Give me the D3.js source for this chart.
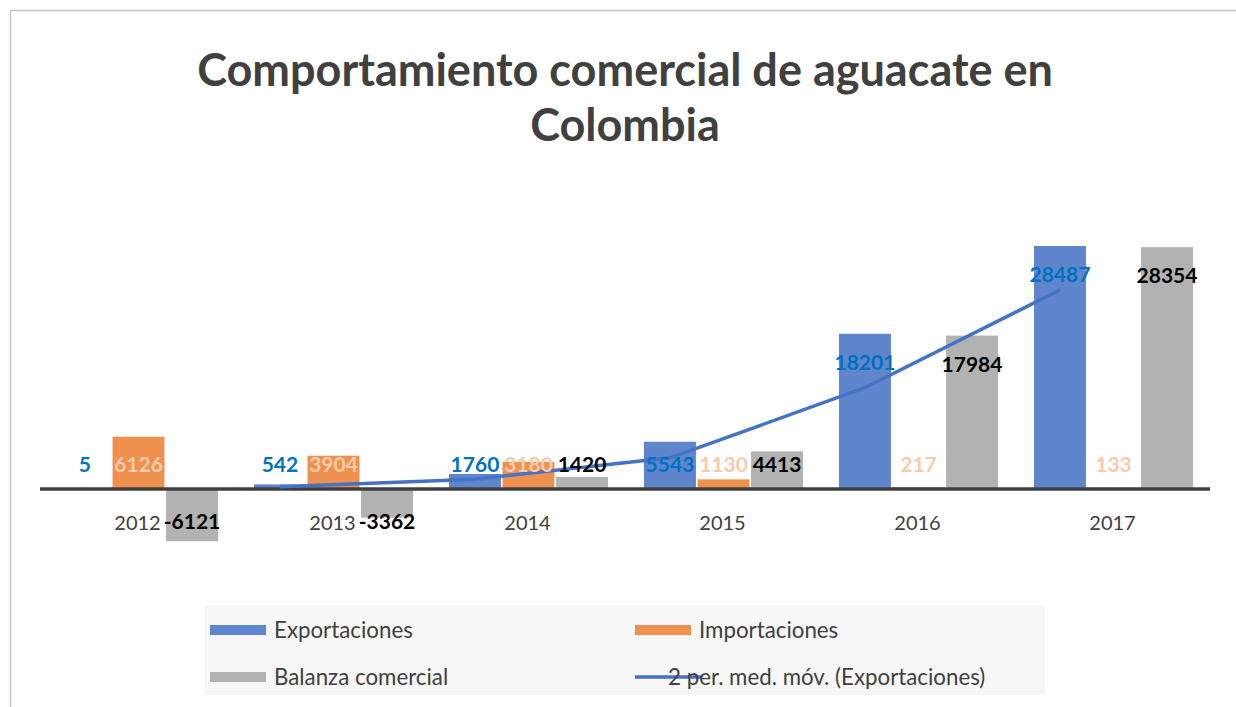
<!DOCTYPE html>
<html>
<head>
<meta charset="utf-8">
<script src="https://cdn.jsdelivr.net/npm/d3@7"></script>
<style>
  body { margin: 0; background: #fff; }
  svg { display: block; }
</style>
</head>
<body>
<script>
var w = 1236;
var h = 707;

var years = ["2012", "2013", "2014", "2015", "2016", "2017"];
var exportaciones = [5, 542, 1760, 5543, 18201, 28487];
var importaciones = [6126, 3904, 3180, 1130, 217, 133];
var balanza = [-6121, -3362, 1420, 4413, 17984, 28354];
var seriesNames = ["Exportaciones", "Importaciones", "Balanza comercial"];
var lineName = "2 per. med. móv. (Exportaciones)";

var colors = ["#5F86CC", "#EE914F", "#B2B2B2"];
var labelColors = ["#0070C0", "#F8CBAD", "#000000"];

// 2-period moving average of exports (Excel trendline)
var movAvg = [];
for (var i = 1; i < exportaciones.length; i++) {
   movAvg.push({ year: years[i], v: (exportaciones[i - 1] + exportaciones[i]) / 2 });
}

var svg = d3.select('body')
   .append('svg')
   .attr('width', w)
   .attr('height', h);

// chart frame
svg.append('path')
   .attr('d', 'M10.5,' + h + 'V10.5H' + w)
   .attr('fill', 'none')
   .attr('stroke', '#C8C8C8')
   .attr('stroke-width', 1.5);

// title
var title = svg.append('text')
   .attr('text-anchor', 'middle')
   .attr('font-family', 'Lato, sans-serif')
   .attr('font-weight', 'bold')
   .attr('font-size', '45px')
   .attr('fill', '#404040');
title.append('tspan').attr('x', 625).attr('y', 86).text('Comportamiento comercial de aguacate en');
title.append('tspan').attr('x', 625).attr('y', 141).text('Colombia');

var x = d3.scaleBand()
   .domain(years)
   .range([40, 1210]);

var xInner = d3.scaleBand()
   .domain(d3.range(3))
   .range([19, 178])
   .paddingInner(0.03);

var k = 0.00853;
var y = d3.scaleLinear()
   .domain([-8000, 30000])
   .range([489 + 8000 * k, 489 - 30000 * k]);

var data = [exportaciones, importaciones, balanza];

var groups = svg.selectAll('g.series')
   .data(data)
   .enter()
   .append('g')
   .attr('class', 'series')
   .attr('fill', function(d, s) { return colors[s]; });

groups.selectAll('rect')
   .data(function(d, s) { return d.map(function(v, i) { return { v: v, s: s, year: years[i] }; }); })
   .enter()
   .append('rect')
   .attr('x', function(d) { return x(d.year) + xInner(d.s); })
   .attr('width', xInner.bandwidth())
   .attr('y', function(d) { return y(Math.max(0, d.v)); })
   .attr('height', function(d) { return Math.abs(y(d.v) - y(0)); });

// axis line
svg.append('line')
   .attr('x1', 40).attr('x2', 1210)
   .attr('y1', y(0)).attr('y2', y(0))
   .attr('stroke', '#404040')
   .attr('stroke-width', 3.5);

// moving average line
var line = d3.line()
   .x(function(d) { return x(d.year) + xInner(0) + xInner.bandwidth() / 2; })
   .y(function(d) { return y(d.v); });

svg.append('path')
   .datum(movAvg)
   .attr('d', line)
   .attr('fill', 'none')
   .attr('stroke', '#4472C4')
   .attr('stroke-width', 3.5);

// category labels
svg.selectAll('text.cat')
   .data(years)
   .enter()
   .append('text')
   .attr('class', 'cat')
   .attr('x', function(d) { return x(d) + x.bandwidth() / 2; })
   .attr('y', 530)
   .attr('text-anchor', 'middle')
   .attr('font-family', 'Lato, sans-serif')
   .attr('font-size', '20px')
   .attr('fill', '#404040')
   .text(function(d) { return d; });

// data labels
var labels = [];
data.forEach(function(arr, s) {
   arr.forEach(function(v, i) { labels.push({ v: v, s: s, year: years[i] }); });
});

svg.selectAll('text.val')
   .data(labels)
   .enter()
   .append('text')
   .attr('class', 'val')
   .attr('x', function(d) { return x(d.year) + xInner(d.s) + xInner.bandwidth() / 2; })
   .attr('y', function(d) {
      if (d.v < 0) return 529;
      return Math.min(y(d.v) + 29, 465) + 7;
   })
   .attr('text-anchor', 'middle')
   .attr('font-family', 'Lato, sans-serif')
   .attr('font-weight', 'bold')
   .attr('font-size', '21px')
   .attr('fill', function(d) { return labelColors[d.s]; })
   .text(function(d) { return d.v; });

// legend
var legend = svg.append('g');
legend.append('rect')
   .attr('x', 205).attr('y', 605)
   .attr('width', 840).attr('height', 90)
   .attr('fill', '#F7F7F7');

var legendItems = [
   { name: seriesNames[0], type: 'rect', color: colors[0], x: 210, y: 630 },
   { name: seriesNames[1], type: 'rect', color: colors[1], x: 635, y: 630 },
   { name: seriesNames[2], type: 'rect', color: colors[2], x: 210, y: 677 },
   { name: lineName, type: 'line', color: '#4472C4', x: 635, y: 677 }
];

legendItems.forEach(function(d) {
   if (d.type === 'rect') {
      legend.append('rect')
         .attr('x', d.x).attr('y', d.y - 5)
         .attr('width', 56).attr('height', 10)
         .attr('fill', d.color);
      legend.append('text')
         .attr('x', d.x + 64).attr('y', d.y + 8)
         .attr('font-family', 'Lato, sans-serif')
         .attr('font-size', '22.3px')
         .attr('fill', '#404040')
         .text(d.name);
   } else {
      legend.append('line')
         .attr('x1', d.x).attr('x2', d.x + 66)
         .attr('y1', d.y).attr('y2', d.y)
         .attr('stroke', d.color)
         .attr('stroke-width', 3.5);
      legend.append('text')
         .attr('x', d.x + 33).attr('y', d.y + 8)
         .attr('font-family', 'Lato, sans-serif')
         .attr('font-size', '22.3px')
         .attr('fill', '#404040')
         .text(d.name);
   }
});
</script>
</body>
</html>
